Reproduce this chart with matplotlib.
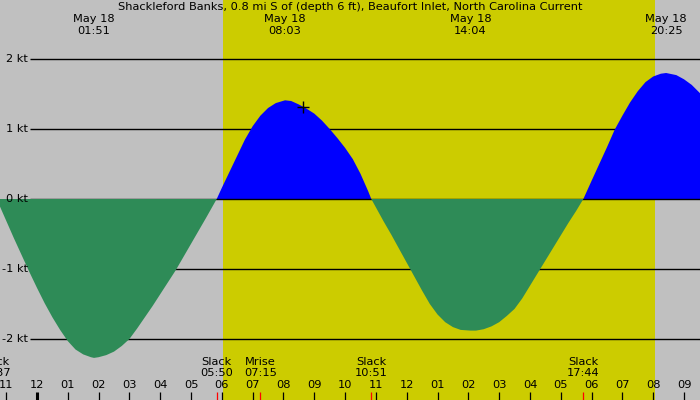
import matplotlib
matplotlib.use("Agg")
import matplotlib.pyplot as plt
import matplotlib.transforms as mtransforms
import numpy as np

plt.rcParams['font.family'] = ['DejaVu Sans']

# ---------------- data ----------------
title = "Shackleford Banks, 0.8 mi S of (depth 6 ft), Beaufort Inlet, North Carolina Current"

# current speed (kt), time in hours since midnight May 18
curve_hours = [-1.5, -1.383, -1.2, -1.0, -0.75, -0.5, -0.25, 0.0, 0.25, 0.5, 0.75,
               1.0, 1.25, 1.5, 1.75, 1.85, 2.0, 2.25, 2.5, 2.75, 3.0, 3.25, 3.5,
               3.75, 4.0, 4.25, 4.5, 4.75, 5.0, 5.25, 5.5, 5.833,
               6.0, 6.25, 6.5, 6.75, 7.0, 7.25, 7.5, 7.75, 8.05, 8.25, 8.5, 8.75,
               9.0, 9.25, 9.5, 9.75, 10.0, 10.25, 10.5, 10.75, 10.85,
               11.0, 11.25, 11.5, 11.75, 12.0, 12.25, 12.5, 12.75, 13.0, 13.25,
               13.5, 13.75, 14.07, 14.25, 14.5, 14.75, 15.0, 15.25, 15.5, 15.75,
               16.0, 16.25, 16.5, 16.75, 17.0, 17.25, 17.5, 17.733,
               18.0, 18.25, 18.5, 18.75, 19.0, 19.25, 19.5, 19.75, 20.0, 20.25,
               20.42, 20.75, 21.0, 21.25, 21.5, 21.75, 22.0]
curve_kt = [0.08, 0.0, -0.11, -0.31, -0.56, -0.80, -1.04, -1.27, -1.49, -1.69, -1.87,
            -2.03, -2.15, -2.22, -2.26, -2.27, -2.26, -2.23, -2.18, -2.10, -2.00,
            -1.85, -1.69, -1.53, -1.36, -1.19, -1.02, -0.83, -0.64, -0.45, -0.26, 0.0,
            0.16, 0.39, 0.62, 0.85, 1.04, 1.19, 1.30, 1.37, 1.41, 1.40, 1.35, 1.29,
            1.22, 1.12, 1.00, 0.87, 0.73, 0.57, 0.36, 0.11, 0.0,
            -0.12, -0.32, -0.51, -0.71, -0.91, -1.11, -1.31, -1.50, -1.65, -1.76,
            -1.83, -1.87, -1.88, -1.88, -1.86, -1.82, -1.76, -1.67, -1.57, -1.42,
            -1.24, -1.06, -0.88, -0.70, -0.52, -0.34, -0.17, 0.0,
            0.26, 0.50, 0.74, 0.99, 1.19, 1.38, 1.54, 1.67, 1.75, 1.79,
            1.80, 1.77, 1.71, 1.63, 1.52, 1.40, 1.27]

# extremes (top labels)
extreme_dates = ["May 18", "May 18", "May 18", "May 18"]
extreme_times = ["01:51", "08:03", "14:04", "20:25"]

# bottom events
event_names = ["Slack", "Slack", "Mrise", "Slack", "Slack"]
event_times = ["22:37", "05:50", "07:15", "10:51", "17:44"]
event_days = [-1, 0, 0, 0, 0]

# daylight
sunrise = "06:02"
sunset = "20:04"

# marker on curve
marker_time = "08:38"
marker_kt = 1.31

# y grid levels and labels
y_levels = [2, 1, 0, -1, -2]
y_labels = ["2 kt", "1 kt", "0 kt", "-1 kt", "-2 kt"]

# hour ticks
tick_hours = list(range(-1, 22))
tick_labels = ["11", "12", "01", "02", "03", "04", "05", "06", "07", "08", "09", "10",
               "11", "12", "01", "02", "03", "04", "05", "06", "07", "08", "09"]

# ---------------- helpers ----------------
def to_h(s, day=0):
    hh, mm = s.split(":")
    return day * 24 + int(hh) + int(mm) / 60.0

FS = 8.2

# ---------------- figure ----------------
W, H = 700, 400
fig = plt.figure(figsize=(7, 4), dpi=100)
fig.patch.set_facecolor("#C0C0C0")
ax = fig.add_axes([0, 0, 1, 1])
ax.set_facecolor("#C0C0C0")
for s in ax.spines.values():
    s.set_visible(False)
ax.set_xticks([])
ax.set_yticks([])

# pixel mapping: hour 0 at x=37px, 30.81 px per hour; 0 kt at y=199px, 70 px per kt
px_per_h = 30.81
x0 = 37.0
ax.set_xlim(-x0 / px_per_h, (W - x0) / px_per_h)
ax.set_ylim((199 - H) / 70.0, 199 / 70.0)

bx = mtransforms.blended_transform_factory(ax.transData, ax.transAxes)
by = mtransforms.blended_transform_factory(ax.transAxes, ax.transData)

def fy(py):  # pixel-from-top to axes fraction
    return 1 - py / H

# daylight
ax.axvspan(to_h(sunrise), to_h(sunset), color="#CCCC00", zorder=0, lw=0)

# grid lines
for lv, lb in zip(y_levels, y_labels):
    ax.plot([30 / W, 1], [lv, lv], transform=by, color="black", lw=1.0,
            zorder=3 if lv == 0 else 1, solid_capstyle="butt")
    ax.text(28 / W, lv, lb, transform=by, ha="right", va="center", fontsize=FS,
            color="black", zorder=5)

t = np.array(curve_hours)
v = np.array(curve_kt)
ax.fill_between(t, v, 0, where=v >= 0, interpolate=True, color="#0000FF", lw=0, zorder=2)
ax.fill_between(t, v, 0, where=v <= 0, interpolate=True, color="#2E8B57", lw=0, zorder=4)

ax.plot([to_h(marker_time)], [marker_kt], marker="+", color="black", ms=9, mew=1.0,
        zorder=6)

# title
ax.text(0.5, fy(7.5), title, transform=ax.transAxes, ha="center", va="center",
        fontsize=FS, color="black")

# top extreme labels
for d, tm in zip(extreme_dates, extreme_times):
    h = to_h(tm)
    ax.text(h, fy(19.5), d, transform=bx, ha="center", va="center", fontsize=FS, zorder=7)
    ax.text(h, fy(31.5), tm, transform=bx, ha="center", va="center", fontsize=FS, zorder=7)

# bottom event labels
red_hours = []
for nm, tm, dy in zip(event_names, event_times, event_days):
    h = to_h(tm, dy)
    red_hours.append(h)
    ax.text(h, fy(362), nm, transform=bx, ha="center", va="center", fontsize=FS, zorder=7)
    ax.text(h, fy(373.5), tm, transform=bx, ha="center", va="center", fontsize=FS, zorder=7)

# hour ticks
for h, lb in zip(tick_hours, tick_labels):
    ax.text(h, fy(385.5), lb, transform=bx, ha="center", va="center", fontsize=FS, zorder=7)
    ax.plot([h, h], [0, 8 / H], transform=bx, color="black",
            lw=2.2 if h == 0 else 0.9, zorder=7, solid_capstyle="butt")

for h in red_hours:
    ax.plot([h, h], [0, 8 / H], transform=bx, color="red", lw=0.9, zorder=8,
            solid_capstyle="butt")

fig.savefig("out.png", dpi=100, facecolor=fig.get_facecolor())
